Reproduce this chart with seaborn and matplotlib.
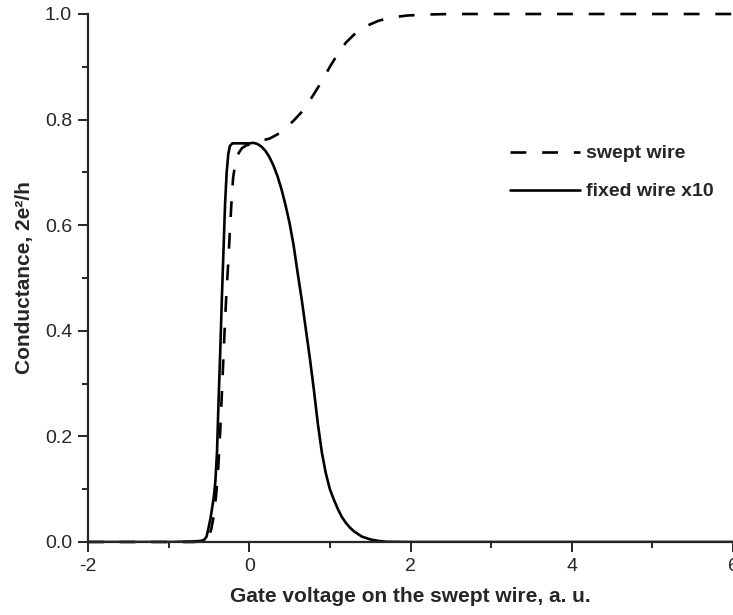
import numpy as np
import pandas as pd
import matplotlib
matplotlib.use("Agg")
import matplotlib.pyplot as plt
import seaborn as sns
from matplotlib.ticker import MultipleLocator

# swept wire conductance (dashed)
swept_x = [-2.0, -1.0, -0.7, -0.6, -0.55, -0.5, -0.47, -0.44, -0.41, -0.385, -0.36,
           -0.34, -0.32, -0.30, -0.28, -0.26, -0.24, -0.22, -0.20, -0.17, -0.13,
           -0.09, -0.04, 0.0, 0.05, 0.15, 0.25, 0.35, 0.45, 0.55, 0.66, 0.78,
           0.91, 1.0, 1.1, 1.2, 1.32, 1.45, 1.6, 1.75, 1.95, 2.2, 2.5, 6.0]
swept_y = [0.0, 0.0, 0.0, 0.001, 0.003, 0.01, 0.025, 0.05, 0.09, 0.14, 0.21,
           0.28, 0.35, 0.42, 0.48, 0.53, 0.59, 0.645, 0.69, 0.72, 0.737,
           0.746, 0.751, 0.753, 0.757, 0.760, 0.764, 0.772, 0.784, 0.798, 0.816, 0.843,
           0.875, 0.900, 0.925, 0.946, 0.964, 0.977, 0.987, 0.993, 0.997, 0.999, 1.0, 1.0]

# fixed wire conductance x10 (solid)
fixed_x = [-2.0, -1.0, -0.7, -0.6, -0.56, -0.53, -0.51, -0.48, -0.44, -0.42, -0.40,
           -0.38, -0.36, -0.34, -0.32, -0.30, -0.28, -0.26, -0.24, -0.21, -0.1,
           0.0, 0.05, 0.1, 0.15, 0.2, 0.25, 0.3, 0.35, 0.4, 0.45, 0.5, 0.55,
           0.6, 0.65, 0.7, 0.75, 0.8, 0.85, 0.9, 0.95, 1.0, 1.05, 1.1, 1.15,
           1.2, 1.25, 1.3, 1.4, 1.5, 1.6, 1.7, 2.0, 6.0]
fixed_y = [0.0, 0.0, 0.001, 0.002, 0.004, 0.01, 0.023, 0.045, 0.085, 0.115, 0.17,
           0.27, 0.36, 0.46, 0.55, 0.64, 0.70, 0.735, 0.75, 0.755, 0.755,
           0.755, 0.756, 0.754, 0.749, 0.741, 0.729, 0.713, 0.693, 0.668, 0.638, 0.604, 0.562,
           0.51, 0.46, 0.405, 0.35, 0.29, 0.225, 0.17, 0.13, 0.10, 0.08, 0.062, 0.047,
           0.036, 0.027, 0.02, 0.01, 0.005, 0.002, 0.0005, 0.0, 0.0]

series_labels = ["swept wire", "fixed wire x10"]

sns.set_style("ticks")
plt.rcParams['font.family'] = ['Liberation Sans', 'DejaVu Sans']

fig = plt.figure(figsize=(7.33, 6.15), dpi=100)
ax = fig.add_axes([88 / 733, 73 / 615, 645 / 733, 528 / 615])

df_swept = pd.DataFrame({"x": swept_x, "y": swept_y})
df_fixed = pd.DataFrame({"x": fixed_x, "y": fixed_y})

sns.lineplot(data=df_swept, x="x", y="y", ax=ax, color="black", lw=1.9,
             linestyle=(0, (6.0, 6.0)), label=series_labels[0], sort=False, clip_on=False)
sns.lineplot(data=df_fixed, x="x", y="y", ax=ax, color="black", lw=1.9,
             label=series_labels[1], sort=False)

ax.set_xlim(-2, 6)
ax.set_ylim(0, 1.0)
ax.xaxis.set_major_locator(MultipleLocator(2))
ax.xaxis.set_minor_locator(MultipleLocator(1))
ax.yaxis.set_major_locator(MultipleLocator(0.2))
ax.yaxis.set_minor_locator(MultipleLocator(0.1))
ax.set_xticklabels([f"{int(v)}" for v in ax.get_xticks()])
ax.set_yticklabels([f"{v:.1f}" for v in ax.get_yticks()])

for side in ["top", "right"]:
    ax.spines[side].set_visible(False)
for side in ["left", "bottom"]:
    ax.spines[side].set_linewidth(1.6)
    ax.spines[side].set_clip_on(False)

ax.tick_params(which="major", direction="out", length=7.5, width=1.4, labelsize=14, pad=4)
ax.tick_params(which="minor", direction="out", length=4, width=1.4)

ax.set_xlabel("Gate voltage on the swept wire, a. u.", fontsize=15, fontweight="bold", labelpad=9)
ax.set_ylabel("Conductance, 2e²/h", fontsize=15, fontweight="bold", labelpad=8)

leg = ax.legend(loc="upper left", bbox_to_anchor=(0.642, 0.767), frameon=False,
                handlelength=3.6, handletextpad=0.3, labelspacing=1.05,
                borderaxespad=0, prop={"weight": "bold", "size": 14})

plt.savefig("out.png", dpi=100)
